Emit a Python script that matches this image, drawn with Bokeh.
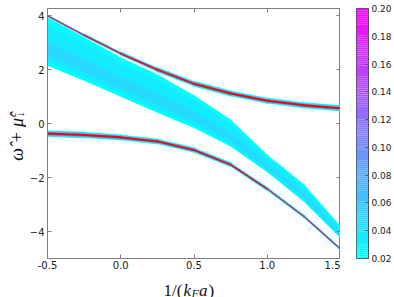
import numpy as np
from bokeh.plotting import figure
from bokeh.layouts import row, column
from bokeh.models import (Range1d, LinearAxis, LinearColorMapper, FixedTicker, ColumnDataSource)
from bokeh.core.properties import value
from bokeh.embed import file_html
from bokeh.resources import INLINE

# ---- data ----
inv_kfa = [-0.5, -0.25, 0.0, 0.25, 0.5, 0.75, 1.0, 1.25, 1.5]
upper_branch = [4.0, 3.28, 2.60, 2.0, 1.48, 1.12, 0.85, 0.68, 0.57]
lower_branch = [-0.37, -0.42, -0.51, -0.66, -0.98, -1.52, -2.42, -3.44, -4.65]
continuum_top = [3.95, 3.2, 2.45, 1.82, 1.05, 0.15, -1.15, -2.25, -3.8]
continuum_bottom = [2.15, 1.59, 1.0, 0.40, -0.16, -0.85, -1.8, -2.9, -4.25]

x_ticks = [-0.5, 0.0, 0.5, 1.0, 1.5]
x_tick_labels = ["-0.5", "0.0", "0.5", "1.0", "1.5"]
y_ticks = [-4, -2, 0, 2, 4]
y_tick_labels = ["\u22124", "\u22122", "0", "2", "4"]
cbar_ticks = [0.02, 0.04, 0.06, 0.08, 0.10, 0.12, 0.14, 0.16, 0.18, 0.20]
cbar_tick_labels = ["0.02", "0.04", "0.06", "0.08", "0.10", "0.12", "0.14", "0.16", "0.18", "0.20"]
cbar_low, cbar_high = 0.02, 0.20
x_lo, x_hi = -0.5, 1.5
y_lo, y_hi = -5.0, 4.27

x_label_parts = ["1/(", "k", "F", "a", ")"]
y_label_parts = ["\u03c9\u0302 + \u03bc\u0302", "c", "\u2193"]


def cool(t):
    t = float(np.clip(t, 0, 1))
    return "#%02x%02xff" % (int(round(255 * t)), int(round(255 * (1 - t))))


palette = [cool(t) for t in np.linspace(0, 1, 256)]

TOTAL_W, TOTAL_H = 394, 297
YLAB_W = 26
CBAR_W = 54
XLAB_H = 25
MAIN_W = TOTAL_W - YLAB_W - CBAR_W
ROW_H = TOTAL_H - XLAB_H
AX_COLOR = "#808080"
tick_font = "DejaVu Sans"

p = figure(width=MAIN_W, height=ROW_H, x_range=Range1d(x_lo, x_hi), y_range=Range1d(y_lo, y_hi),
           output_backend="svg", toolbar_location=None,
           min_border_left=19, min_border_right=0, min_border_top=8, min_border_bottom=13)
p.grid.visible = False
p.outline_line_color = AX_COLOR

X = np.array(inv_kfa)
top = np.array(continuum_top)
bot = np.array(continuum_bottom)
w = top - bot

# continuum
p.varea(x=X, y1=bot, y2=top, fill_color=cool(0.0))
p.varea(x=X, y1=bot + 0.08 * w, y2=top - 0.15 * w, fill_color=cool(0.08))
p.varea(x=X, y1=bot + 0.2 * w, y2=top - 0.5 * w, fill_color=cool(0.15))


def branch(ys, halo_pts, halo_w):
    ys = np.array(ys)
    mid = 0.5 * (X[:-1] + X[1:])
    hw = np.interp(mid, halo_pts, halo_w)
    kw = dict(x0=X[:-1], y0=ys[:-1], x1=X[1:], y1=ys[1:], line_cap="round")
    p.segment(line_color=cool(0.0), line_width=list(hw), **kw)
    p.segment(line_color=cool(0.4), line_width=list(np.maximum(hw * 0.6, 1.6)), **kw)
    p.segment(line_color="#ff0000", line_width=list(np.clip(hw * 0.36, 0.9, 2.2)), **kw)


branch(upper_branch, [-0.5, 0.0, 0.5, 1.5], [1.8, 3.5, 5.5, 6.0])
branch(lower_branch, [-0.5, 0.5, 1.0, 1.5], [6.5, 5.0, 3.0, 2.0])


def style_axis(ax, show_labels=True, size="10px", standoff=4, tick_in=4):
    ax.axis_line_color = AX_COLOR
    ax.major_tick_line_color = AX_COLOR
    ax.major_tick_in = tick_in
    ax.major_tick_out = 0
    ax.minor_tick_line_color = None
    if show_labels:
        ax.major_label_text_font = tick_font
        ax.major_label_text_font_size = size
        ax.major_label_text_color = "#1a1a1a"
        ax.major_label_standoff = standoff
    else:
        ax.major_label_text_font_size = "0px"
        ax.major_label_text_color = None
        ax.major_label_standoff = 0


style_axis(p.xaxis[0], standoff=2)
style_axis(p.yaxis[0], standoff=3)
p.xaxis[0].ticker = FixedTicker(ticks=x_ticks)
p.xaxis[0].major_label_overrides = dict(zip(x_ticks, x_tick_labels))
p.yaxis[0].ticker = FixedTicker(ticks=y_ticks)
p.yaxis[0].major_label_overrides = dict(zip(y_ticks, y_tick_labels))
for loc, ticks in (("right", y_ticks), ("above", x_ticks)):
    ax = LinearAxis(ticker=FixedTicker(ticks=ticks))
    style_axis(ax, show_labels=False)
    p.add_layout(ax, loc)

# colour bar as its own small figure drawn through a colour mapper
mapper = LinearColorMapper(palette=palette, low=cbar_low, high=cbar_high)
cbf = figure(width=CBAR_W, height=ROW_H, x_range=Range1d(0, 1),
             y_range=Range1d(cbar_low, cbar_high), y_axis_location="right",
             output_backend="svg", toolbar_location=None,
             min_border_left=16, min_border_right=25, min_border_top=8, min_border_bottom=14)
cbf.grid.visible = False
cbf.xaxis.visible = False
cbf.outline_line_color = "#555555"
levels = np.linspace(cbar_low, cbar_high, 129)
cb_src = ColumnDataSource(dict(mid=0.5 * (levels[:-1] + levels[1:]),
                               bottom=levels[:-1], top=levels[1:]))
cbf.quad(left=0, right=1, bottom="bottom", top="top",
         fill_color={"field": "mid", "transform": mapper}, line_color=None, source=cb_src)
style_axis(cbf.yaxis[0], size="9px", standoff=3, tick_in=3)
cbf.yaxis[0].axis_line_color = "#555555"
cbf.yaxis[0].major_tick_line_color = "#555555"
cbf.yaxis[0].ticker = FixedTicker(ticks=cbar_ticks)
cbf.yaxis[0].major_label_overrides = dict(zip(cbar_ticks, cbar_tick_labels))

serif = value("Liberation Serif")


def label_fig(w, h):
    f = figure(width=w, height=h, x_range=Range1d(0, w), y_range=Range1d(0, h),
               output_backend="svg", toolbar_location=None,
               min_border=0, outline_line_color=None)
    f.axis.visible = False
    f.grid.visible = False
    return f


# y label: omega-hat + mu-hat with ^c and _down (reads bottom to top)
ylab = label_fig(YLAB_W, ROW_H)
yb, ye = 16, ROW_H - 119
ylab.text(x=[yb], y=[ye], text=[y_label_parts[0]], angle=np.pi / 2,
          text_font=serif, text_font_size="18px", text_font_style="italic",
          text_align="right", text_baseline="alphabetic", text_color="#111111")
ylab.text(x=[yb - 5], y=[ye + 1], text=[y_label_parts[1]], angle=np.pi / 2,
          text_font=serif, text_font_size="11px", text_font_style="italic",
          text_align="left", text_baseline="alphabetic", text_color="#111111")
ylab.text(x=[yb + 3], y=[ye + 1], text=[y_label_parts[2]], angle=np.pi / 2,
          text_font=serif, text_font_size="11px", text_font_style="normal",
          text_align="left", text_baseline="alphabetic", text_color="#111111")

# x label: 1/(k_F a)
xlab = label_fig(TOTAL_W, XLAB_H)
bx, by = 163, XLAB_H - 18
offs = [0, 20, 28, 35.5, 45]
sizes = ["17px", "17px", "12px", "17px", "17px"]
styles = ["normal", "italic", "italic", "italic", "normal"]
dys = [0, 0, -3, 0, 0]
for part, o, s, st, dy in zip(x_label_parts, offs, sizes, styles, dys):
    xlab.text(x=[bx + o], y=[by + dy], text=[part], text_font=serif, text_font_size=s,
              text_font_style=st, text_align="left", text_baseline="alphabetic",
              text_color="#111111")

layout = column(row(ylab, p, cbf, spacing=0), xlab, spacing=0)
open("out.html", "w").write(file_html(layout, INLINE))
